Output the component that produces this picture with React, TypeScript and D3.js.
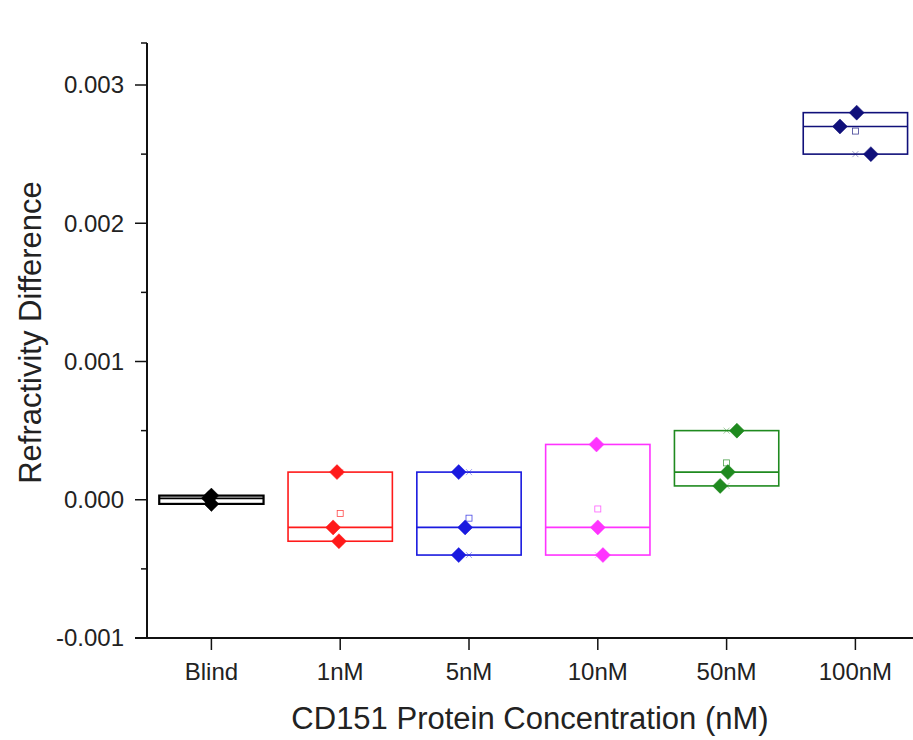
import React from "react";
import * as d3 from "d3";

const categories = ["Blind", "1nM", "5nM", "10nM", "50nM", "100nM"];
const colors = ["#000000", "#ff1a1a", "#1a1adf", "#ff33ff", "#1f8a1f", "#10107a"];
const blindVals = [0.00003, 0.00001, -0.00003];
const nM1Vals = [0.0002, -0.0002, -0.0003];
const nM5Vals = [0.0002, -0.0002, -0.0004];
const nM10Vals = [0.0004, -0.0002, -0.0004];
const nM50Vals = [0.0005, 0.0002, 0.0001];
const nM100Vals = [0.0028, 0.0027, 0.0025];
const seriesValues = [blindVals, nM1Vals, nM5Vals, nM10Vals, nM50Vals, nM100Vals];
// horizontal jitter of the points, in category units
const jitter = [
  [0.0, -0.02, 0.0],
  [-0.025, -0.055, -0.01],
  [-0.08, -0.03, -0.08],
  [-0.01, 0.0, 0.04],
  [0.08, 0.01, -0.05],
  [0.01, -0.12, 0.12],
];
const yTicks = [-0.001, 0, 0.001, 0.002, 0.003];
const yTickLabels = ["-0.001", "0.000", "0.001", "0.002", "0.003"];
const yMinorTicks = [-0.0005, 0.0005, 0.0015, 0.0025];

const W = 913, H = 740;
const left = 147, bottom = 638, top = 43;

export default function App() {
  const x = d3.scaleLinear().domain([0.5, 6.5]).range([left, left + 6 * 128.8]);
  const y = d3.scaleLinear().domain([-0.001, 0.003]).range([bottom, 85]);
  const yTop = y.invert(top);
  const boxHalf = 0.405;
  const font = "Arial, 'Liberation Sans', sans-serif";
  const txt = "#222";

  return (
    <div style={{ position: "absolute", left: 0, top: 0 }}>
      <svg width={W} height={H} style={{ display: "block", background: "#fff" }}>
        {/* boxes */}
        {seriesValues.map((vals, i) => {
          const c = colors[i];
          const cx = x(i + 1);
          const mn = d3.min(vals)!, mx = d3.max(vals)!;
          const med = d3.median(vals)!, mean = d3.mean(vals)!;
          const x0 = x(i + 1 - boxHalf), x1 = x(i + 1 + boxHalf);
          return (
            <g key={categories[i]}>
              <rect x={x0} y={y(mx)} width={x1 - x0} height={Math.max(y(mn) - y(mx), 1)}
                fill="none" stroke={c} strokeWidth={i === 0 ? 2.2 : 1.6} />
              <line x1={x0} x2={x1} y1={y(med)} y2={y(med)} stroke={c} strokeWidth={1.6} />
              {[mn, mx].map((v, k) => (
                <path key={k} d={`M${cx - 3},${y(v) - 3}L${cx + 3},${y(v) + 3}M${cx - 3},${y(v) + 3}L${cx + 3},${y(v) - 3}`}
                  stroke={c} strokeWidth={0.8} opacity={0.5} />
              ))}
              <rect x={cx - 3} y={y(mean) - 3} width={6} height={6} fill="none" stroke={c} strokeWidth={0.8} opacity={0.8} />
              {vals.map((v, k) => {
                const px = x(i + 1 + jitter[i][k]);
                const py = y(v);
                const r = 7.5;
                return (
                  <path key={"p" + k} d={`M${px},${py - r}L${px + r},${py}L${px},${py + r}L${px - r},${py}Z`}
                    fill={c} stroke={c} strokeWidth={0.5} />
                );
              })}
            </g>
          );
        })}

        {/* y axis */}
        <line x1={left} x2={left} y1={top} y2={bottom} stroke="#111" strokeWidth={2} />
        <line x1={left - 6} x2={left} y1={top} y2={top} stroke="#111" strokeWidth={1.5} />
        {yTicks.map((t, i) => (
          <g key={t}>
            <line x1={left - 12} x2={left} y1={y(t)} y2={y(t)} stroke="#111" strokeWidth={1.5} />
            <text x={left - 23} y={y(t)} dy="0.35em" textAnchor="end" fontFamily={font} fontSize={24} fill={txt}>
              {yTickLabels[i]}
            </text>
          </g>
        ))}
        {yMinorTicks.map((t) => (
          <line key={t} x1={left - 6} x2={left} y1={y(t)} y2={y(t)} stroke="#111" strokeWidth={1.5} />
        ))}

        {/* x axis */}
        <line x1={left - 12} x2={W} y1={bottom} y2={bottom} stroke="#111" strokeWidth={2} />
        {categories.map((c, i) => (
          <g key={c}>
            <line x1={x(i + 1)} x2={x(i + 1)} y1={bottom} y2={bottom + 12} stroke="#111" strokeWidth={1.5} />
            <text x={x(i + 1)} y={bottom + 34} dy="0.35em" textAnchor="middle" fontFamily={font} fontSize={24} fill={txt}>
              {c}
            </text>
          </g>
        ))}

        {/* titles */}
        <text x={530} y={729} textAnchor="middle" fontFamily={font} fontSize={31} fill={txt}>
          CD151 Protein Concentration (nM)
        </text>
        <text transform={`translate(41,${(y(yTop) + bottom) / 2 - 8}) rotate(-90)`} textAnchor="middle" fontFamily={font} fontSize={31} fill={txt}>
          Refractivity Difference
        </text>
      </svg>
    </div>
  );
}
